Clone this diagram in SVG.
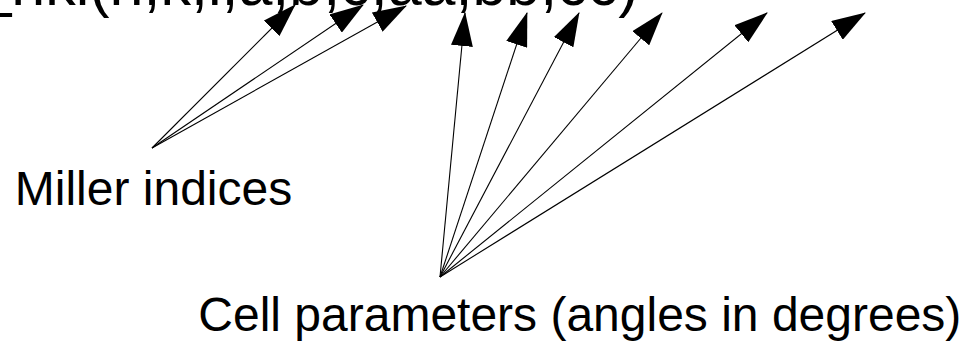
<svg xmlns="http://www.w3.org/2000/svg" width="969" height="344" viewBox="0 0 969 344">
<style>
text{font-family:"Liberation Sans",Arial,sans-serif;fill:#000}
.lbl{font-size:48px}
.top{font-size:61px}
#connectors line{stroke:#000;stroke-width:1.1;fill:none;marker-end:url(#ah)}
</style>
<defs>
<marker id="ah" markerUnits="userSpaceOnUse" markerWidth="34" markerHeight="22" viewBox="0 0 34 22" refX="33" refY="11" orient="auto"><path d="M0,0L34,11L0,22z" fill="#000"/></marker>
</defs>
<rect width="969" height="344" fill="#fff"/>
<g id="formula"><text class="top" x="-22.6" y="4.5">_hkl(h,k,l,a,b,c,aa,bb,cc)</text></g>
<g id="miller"><text class="lbl" x="14.8" y="205">Miller indices</text></g>
<g id="cell"><text class="lbl" x="198.3" y="331">Cell parameters (angles in degrees)</text></g>
<g id="connectors">
<line x1="152" y1="148" x2="295" y2="5"/>
<line x1="152" y1="148" x2="363" y2="5"/>
<line x1="152" y1="148" x2="406" y2="6"/>
<line x1="440" y1="277" x2="465" y2="13"/>
<line x1="440" y1="277" x2="527" y2="13"/>
<line x1="440" y1="277" x2="579" y2="13"/>
<line x1="440" y1="277" x2="662" y2="13"/>
<line x1="440" y1="277" x2="767" y2="13"/>
<line x1="440" y1="277" x2="865" y2="13"/>
</g>
</svg>
